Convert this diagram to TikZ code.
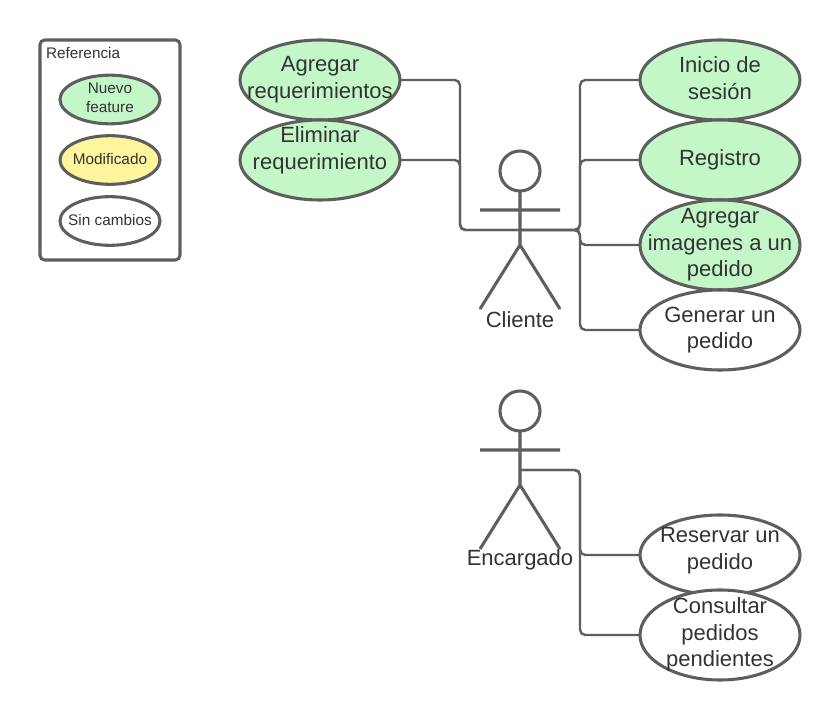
\documentclass[tikz,border=0pt]{standalone}
\usepackage{fontspec}
\setmainfont{Liberation Sans}
\usetikzlibrary{shapes.geometric}
\definecolor{linegray}{HTML}{5E5E5E}
\definecolor{txtgray}{HTML}{333333}
\definecolor{newgreen}{HTML}{C3F7C8}
\definecolor{modyellow}{HTML}{FFF59D}
\newcommand{\legendfont}{\fontsize{11.5}{14.5}\selectfont}
\tikzset{
  every node/.style={text=txtgray,font=\fontsize{16.5}{20}\selectfont,align=center,inner sep=0pt,outer sep=0pt},
  usecase/.style={ellipse,draw=linegray,line width=2.3pt,minimum width=120pt,minimum height=60pt},
  uclarge/.style={usecase,minimum height=67.5pt},
  newf/.style={fill=newgreen},
  plainf/.style={fill=white},
  legendcase/.style={ellipse,draw=linegray,line width=2.3pt,minimum width=75pt,minimum height=36.5pt},
  conn/.style={draw=linegray,line width=1.8pt,rounded corners=4pt},
  actorline/.style={draw=linegray,line width=2.3pt},
  head/.style={circle,draw=linegray,line width=2.3pt,minimum size=30pt},
  actorlabel/.style={font=\fontsize{16.5}{20}\selectfont}
}
\begin{document}
\begin{tikzpicture}[x=0.75pt,y=-0.75pt]
\useasboundingbox (0,0) rectangle (840,720);
\fill[white] (0,0) rectangle (840,720);
% legend
\node[draw=linegray,line width=2.3pt,rounded corners=3.5pt,minimum width=105pt,minimum height=165pt] (legend) at (110,150) {};
\node[anchor=west,font=\legendfont] (legendtitle) at (46,53) {Referencia};
\node[legendcase,fill=newgreen,label={[font=\legendfont,yshift=1.2pt]center:Nuevo\\feature}] (lnew) at (110,99.5) {};
\node[legendcase,fill=modyellow,label={[font=\legendfont,yshift=1pt]center:Modificado}] (lmod) at (110,160) {};
\node[legendcase,fill=white,label={[font=\legendfont,yshift=0.5pt]center:Sin cambios}] (lsame) at (110,221) {};
% actors
\node[head] (chead) at (520,171) {};
\coordinate (chip) at (520,245);
\coordinate (carmL) at (480,210);
\coordinate (carmR) at (560,210);
\coordinate (clegL) at (480,309);
\coordinate (clegR) at (560,309);
\coordinate (chub) at (520,230);
\draw[actorline] (chead.south) -- (chip) (carmL) -- (carmR) (clegL) -- (chip) -- (clegR);
\node[actorlabel] (clabel) at (520,320) {Cliente};
\node[head] (ehead) at (520,411) {};
\coordinate (ehip) at (520,485);
\coordinate (earmL) at (480,450);
\coordinate (earmR) at (560,450);
\coordinate (elegL) at (480,549);
\coordinate (elegR) at (560,549);
\coordinate (ehub) at (520,470);
\draw[actorline] (ehead.south) -- (ehip) (earmL) -- (earmR) (elegL) -- (ehip) -- (elegR);
\node[actorlabel] (elabel) at (520,560) {Encargado};
% connectors
\draw[conn] (400,80) -- (460,80) -- (460,230) -- (chub);
\draw[conn] (400,160) -- (460,160) -- (460,230) -- (chub);
\draw[conn] (chub) -- (580,230) -- (580,80) -- (640,80);
\draw[conn] (chub) -- (580,230) -- (580,160) -- (640,160);
\draw[conn] (chub) -- (580,230) -- (580,245) -- (640,245);
\draw[conn] (chub) -- (580,230) -- (580,330) -- (640,330);
\draw[conn] (ehub) -- (580,470) -- (580,555) -- (640,555);
\draw[conn] (ehub) -- (580,470) -- (580,635) -- (640,635);
% use cases
\node[usecase,newf,label={center:Agregar\\requerimientos}] (add) at (320,80) {};
\node[usecase,newf,label={[yshift=7.5pt]center:Eliminar\\requerimiento}] (del) at (320,160) {};
\node[usecase,newf,label={[yshift=1.3pt]center:Inicio de\\sesión}] (login) at (720,80) {};
\node[usecase,newf,label={[yshift=0.5pt]center:Registro}] (reg) at (720,160) {};
\node[uclarge,newf,label={center:Agregar\\imagenes a un\\pedido}] (img) at (720,245) {};
\node[usecase,plainf,label={center:Generar un\\pedido}] (gen) at (720,330) {};
\node[usecase,plainf,label={[yshift=3pt]center:Reservar un\\pedido}] (res) at (720,555) {};
\node[uclarge,plainf,label={[yshift=0.4pt]center:Consultar\\pedidos\\pendientes}] (cons) at (720,635) {};
\end{tikzpicture}
\end{document}
